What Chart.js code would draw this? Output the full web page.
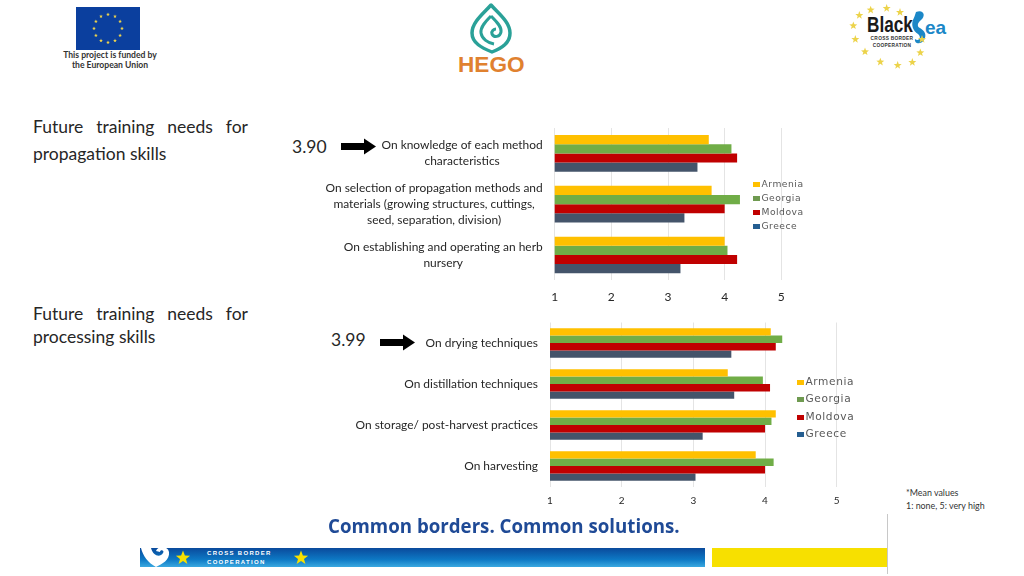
<!DOCTYPE html>
<html>
<head>
<meta charset="utf-8">
<title>Future training needs</title>
<script src="https://cdn.jsdelivr.net/npm/chart.js@4"></script>
<style>
html, body { margin: 0; padding: 0; background: #fff; }
body { width: 1024px; height: 576px; position: relative; overflow: hidden; font-family: Lato, sans-serif; color: #262626; }
.abs { position: absolute; }
canvas { position: absolute; }
.heading { position: absolute; left: 33px; width: 215px; font-size: 17.5px; text-align: justify; text-align-last: justify; line-height: 22px; white-space: nowrap; }
.heading2 { position: absolute; left: 33px; font-size: 17.5px; line-height: 22px; white-space: nowrap; }
.score { position: absolute; font-size: 17.5px; line-height: 22px; }
.legend { position: absolute; font-family: "DejaVu Sans", sans-serif; color: #595959; }
.legend div { position: absolute; white-space: nowrap; }
.legend span { position: absolute; }
</style>
</head>
<body>

<svg class="abs" style="left:0;top:0" width="1024" height="576" id="art">
  <rect x="76" y="7" width="64" height="43" fill="#0b3f9e"/>
  <path d="M491 5 C484 13 472 22 472 33 C472 43 482 48 492 52 C502 48 510 43 510 33 C510 22 498 13 491 5 Z" fill="none" stroke="#2aa198" stroke-width="3.5" stroke-linejoin="round"/>
  <path d="M491 16 C486 21 480 27 481 33 C482 39 488 43 494 44 M491 16 C496 21 502 27 501 32 C500 37 494 38 492 34 C491 31 494 29 496 29" fill="none" stroke="#2aa198" stroke-width="3"/>
  <path d="M916 12 C924 9 926 16 921 20 C917 23 917 27 920 28 C925 31 927 35 924 40 C921 45 914 44 915 39 C919 42 922 37 918 34 C913 31 911 25 913 20 C914 18 915 15 916 12 Z" fill="#1b87c7"/>
  <rect x="140" y="548" width="565" height="19" fill="url(#band)"/>
  <rect x="712" y="548" width="175" height="19" fill="#f7e000"/>
  <path d="M141 548 L151 548 C153 556 160 558 163 553 C165 550 160 549 160 552 L156 551 C158 545 168 546 169 552 C170 560 162 564 156 567 C148 563 143 556 141 548 Z" fill="#fff"/>
  <line x1="887.5" y1="514" x2="887.5" y2="574" stroke="#c8c8c8" stroke-width="1"/>
  <path d="M341 143 H364 V138.5 L376 146.5 L364 154.5 V150 H341 Z" fill="#000"/>
  <path d="M380 339 H403 V334.5 L415 342.5 L403 350.5 V346 H380 Z" fill="#000"/>
  <defs>
    <linearGradient id="band" x1="0" y1="0" x2="0" y2="1">
      <stop offset="0" stop-color="#0a4a9c"/>
      <stop offset="0.6" stop-color="#0d78c4"/>
      <stop offset="1" stop-color="#3aa8e0"/>
    </linearGradient>
  </defs>
</svg>

<div class="abs" style="left:50px;top:50px;width:120px;text-align:center;font-size:8.6px;line-height:10px;font-weight:700;color:#333">This project is funded by<br>the European Union</div>
<div class="abs" style="left:458px;top:52px;font-family:'Liberation Sans',sans-serif;font-weight:700;font-size:22.6px;line-height:26px;color:#e0812f">HEGO</div>
<div class="abs" style="left:867px;top:11px;font-family:'Liberation Sans',sans-serif;font-weight:700;font-size:22px;line-height:28px;color:#1a1a1a;transform:scaleX(.78);transform-origin:left top">Black</div>
<div class="abs" style="left:925px;top:16px;font-family:'Liberation Sans',sans-serif;font-weight:700;font-size:19px;line-height:24px;color:#1b87c7">ea</div>
<div class="abs" style="left:862px;top:36px;width:60px;text-align:center;font-family:'Liberation Sans',sans-serif;font-weight:700;font-size:4.8px;line-height:6.5px;letter-spacing:.3px;color:#333">CROSS BORDER<br>COOPERATION</div>

<div class="heading" style="top:116px">Future training needs for</div>
<div class="heading2" style="top:143px">propagation skills</div>
<div class="heading" style="top:303px">Future training needs for</div>
<div class="heading2" style="top:326px">processing skills</div>
<div class="score" style="left:292px;top:136px">3.90</div>
<div class="score" style="left:331px;top:329px">3.99</div>

<canvas id="chartPropagation" width="480" height="190" style="left:320px;top:120px"></canvas>
<canvas id="chartProcessing" width="540" height="200" style="left:320px;top:315px"></canvas>
<div class="legend" id="legendPropagation" style="left:753px;top:178px;font-size:9.2px;letter-spacing:.5px"></div>
<div class="legend" id="legendProcessing" style="left:797px;top:375px;font-size:10.6px;letter-spacing:.6px"></div>

<div class="abs" style="left:906px;top:486px;font-size:8.9px;line-height:13px;color:#333;white-space:nowrap">*Mean values<br>1: none, 5: very high</div>
<div class="abs" style="left:328px;top:513px;font-family:'Open Sans',sans-serif;font-weight:700;font-size:18.7px;line-height:26px;color:#1f4a96;white-space:nowrap">Common borders. Common solutions.</div>
<div class="abs" style="left:207px;top:549px;font-family:'Liberation Sans',sans-serif;font-weight:700;font-size:6px;line-height:8.5px;letter-spacing:1.3px;color:#fff;white-space:nowrap">CROSS BORDER<br>COOPERATION</div>

<script>
const countries = ['Armenia', 'Georgia', 'Moldova', 'Greece'];
const barColors = ['#ffc000', '#70ad47', '#c00000', '#44546a'];
const legendColors = ['#ffc000', '#6f9a50', '#c00000', '#255e91'];
const xTicks = [1, 2, 3, 4, 5];

const propagationCategories = [
    ['On knowledge of each method', 'characteristics'],
    ['On selection of propagation methods and', 'materials (growing structures, cuttings,', 'seed, separation, division)'],
    ['On establishing and operating an herb', 'nursery']
];
const propagationArmenia = [3.72, 3.77, 4.00];
const propagationGeorgia = [4.12, 4.27, 4.05];
const propagationMoldova = [4.22, 4.00, 4.22];
const propagationGreece = [3.52, 3.29, 3.22];

const processingCategories = [
    ['On drying techniques'],
    ['On distillation techniques'],
    ['On storage/ post-harvest practices'],
    ['On harvesting']
];
const processingArmenia = [4.08, 3.48, 4.15, 3.87];
const processingGeorgia = [4.24, 3.97, 4.09, 4.12];
const processingMoldova = [4.15, 4.07, 4.00, 4.00];
const processingGreece = [3.53, 3.57, 3.13, 3.03];

// category labels sit right aligned as a block but the lines inside are centered
const categoryLabels = {
    id: 'categoryLabels',
    afterDraw(chart, args, opts) {
        const ctx = chart.ctx;
        const yScale = chart.scales.y;
        ctx.save();
        ctx.font = opts.font;
        ctx.fillStyle = '#262626';
        ctx.textAlign = 'center';
        ctx.textBaseline = 'middle';
        chart.data.labels.forEach((lines, i) => {
            const widest = Math.max(...lines.map(l => ctx.measureText(l).width));
            const cx = chart.chartArea.left - opts.gap - widest / 2;
            const startY = yScale.getPixelForTick(i) - (lines.length - 1) * opts.lineHeight / 2;
            lines.forEach((l, j) => ctx.fillText(l, cx, startY + j * opts.lineHeight));
        });
        ctx.restore();
    }
};

function makeDatasets(series) {
    return countries.map((name, i) => ({
        label: name,
        data: series[i],
        backgroundColor: barColors[i],
        barPercentage: 1,
        categoryPercentage: 0.72
    }));
}

function makeChart(id, labels, series, padding, axisHeight, tickFont, tickPad, labelFont, lineHeight) {
    return new Chart(document.getElementById(id), {
        type: 'bar',
        data: { labels: labels, datasets: makeDatasets(series) },
        plugins: [categoryLabels],
        options: {
            indexAxis: 'y',
            responsive: false,
            animation: false,
            layout: { padding: padding },
            plugins: {
                legend: { display: false },
                tooltip: { enabled: false },
                categoryLabels: { font: labelFont, lineHeight: lineHeight, gap: 12 }
            },
            scales: {
                x: {
                    min: 1,
                    max: 5,
                    afterBuildTicks: scale => { scale.ticks = xTicks.map(v => ({ value: v })); },
                    afterFit: scale => { scale.height = axisHeight; },
                    grid: { color: '#e4e4e4', drawTicks: false },
                    border: { display: false },
                    ticks: { color: '#262626', font: { family: 'Lato', size: tickFont }, padding: tickPad, maxRotation: 0 }
                },
                y: {
                    afterFit: scale => { scale.width = 0; },
                    grid: { display: false },
                    border: { display: false },
                    ticks: { display: false }
                }
            }
        }
    });
}

function drawLegend(id, step, swatchTop) {
    const box = document.getElementById(id);
    countries.forEach((name, i) => {
        const item = document.createElement('div');
        item.style.top = (i * step) + 'px';
        item.style.left = '8.5px';
        item.textContent = name;
        const swatch = document.createElement('span');
        swatch.style.cssText = 'left:-8.5px;top:' + swatchTop + 'px;width:7px;height:5px;background:' + legendColors[i];
        item.appendChild(swatch);
        box.appendChild(item);
    });
}

makeChart('chartPropagation', propagationCategories,
    [propagationArmenia, propagationGeorgia, propagationMoldova, propagationGreece],
    { left: 234.7, right: 18.7, top: 8, bottom: 0 }, 29.7, 12, 10, '11.95px Lato', 16);
makeChart('chartProcessing', processingCategories,
    [processingArmenia, processingGeorgia, processingMoldova, processingGreece],
    { left: 230, right: 23.3, top: 7.5, bottom: 0 }, 28.5, 10, 8, '11.95px Lato', 16);

drawLegend('legendPropagation', 14, 4);
drawLegend('legendProcessing', 17.3, 5);

// logo stars
const svgNS = 'http://www.w3.org/2000/svg';
const art = document.getElementById('art');
function addStar(x, y, r, fill) {
    let pts = [];
    for (let k = 0; k < 10; k++) {
        const rad = k % 2 ? r * 0.42 : r;
        const a = -Math.PI / 2 + k * Math.PI / 5;
        pts.push((x + rad * Math.cos(a)).toFixed(1) + ',' + (y + rad * Math.sin(a)).toFixed(1));
    }
    const p = document.createElementNS(svgNS, 'polygon');
    p.setAttribute('points', pts.join(' '));
    p.setAttribute('fill', fill);
    art.appendChild(p);
}
for (let k = 0; k < 12; k++) {
    const a = k * Math.PI / 6;
    addStar(108 + 14 * Math.sin(a), 28.5 - 14 * Math.cos(a), 2, '#f2d64b');
}
const blackSeaStars = [[92,30],[140,25],[180,37],[58,46],[40,77],[46,118],[75,155],[121,186],[173,196],[217,187],[241,158],[246,118]];
blackSeaStars.forEach(s => addStar(840 + s[0] / 3, s[1] / 3, 4.2, '#ecd34a'));
addStar(183, 558, 7.5, '#f7e000');
addStar(301, 558, 7.5, '#f7e000');
</script>
</body>
</html>
